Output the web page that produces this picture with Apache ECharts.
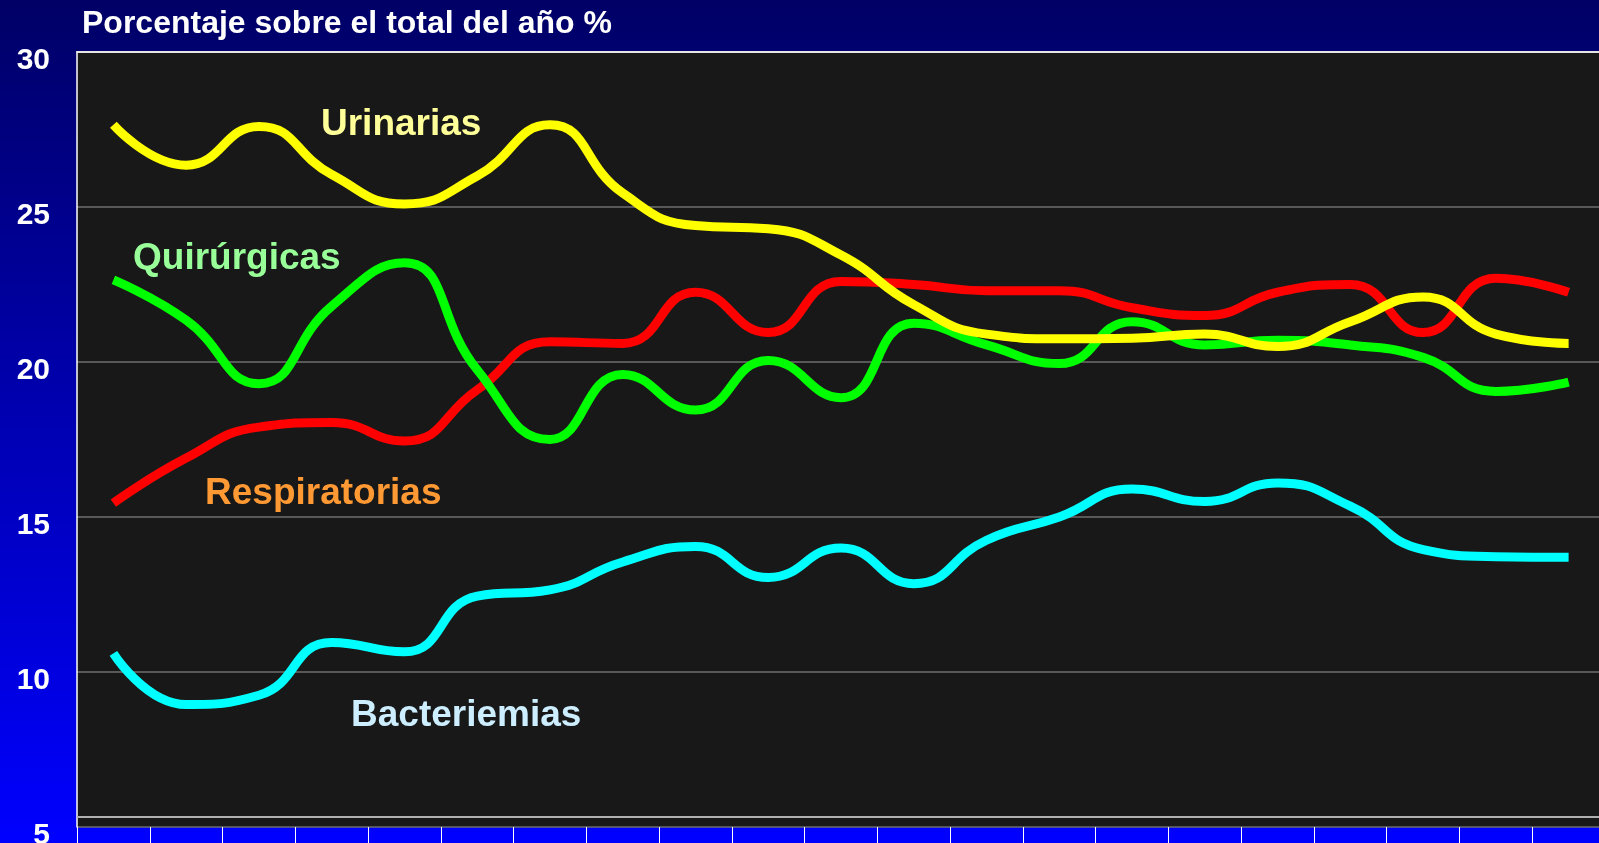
<!DOCTYPE html>
<html>
<head>
<meta charset="utf-8">
<script src="https://cdn.jsdelivr.net/npm/echarts@6/dist/echarts.min.js"></script>
<style>
  html, body { margin: 0; padding: 0; }
  #chart { width: 1599px; height: 843px; }
</style>
</head>
<body>
<div id="chart"></div>
<script>
// years of the survey (x labels fall outside the visible area)
var years = ['1990','1991','1992','1993','1994','1995','1996','1997','1998','1999','2000',
             '2001','2002','2003','2004','2005','2006','2007','2008','2009','2010'];

var urinarias     = [27.65, 26.35, 27.6, 26.05, 25.1, 26.0, 27.65, 25.45, 24.4, 24.3, 23.45,
                     21.85, 20.9, 20.75, 20.77, 20.9, 20.5, 21.3, 22.1, 20.9, 20.6];
var quirurgicas   = [22.65, 21.35, 19.3, 21.8, 23.2, 19.75, 17.5, 19.6, 18.45, 20.05, 18.85,
                     21.25, 20.55, 19.95, 21.3, 20.55, 20.7, 20.55, 20.15, 19.05, 19.35];
var respiratorias = [15.45, 16.9, 17.9, 18.05, 17.45, 19.1, 20.65, 20.6, 22.25, 20.95, 22.6,
                     22.5, 22.3, 22.3, 21.75, 21.5, 22.25, 22.5, 20.95, 22.7, 22.25];
var bacteriemias  = [10.6, 8.95, 9.25, 10.95, 10.65, 12.45, 12.65, 13.55, 14.05, 13.05, 14.0,
                     12.85, 14.25, 15.0, 15.9, 15.5, 16.1, 15.35, 13.95, 13.72, 13.7];

var yTicks = [5, 10, 15, 20, 25, 30];

var font = '"Liberation Sans", Arial, Helvetica, sans-serif';

function lineSeries(name, data, color) {
    return {
        name: name,
        type: 'line',
        data: data,
        smooth: 0.5,
        symbol: 'none',
        silent: true,
        lineStyle: { color: color, width: 9 }
    };
}

function seriesLabel(text, x, y, color) {
    return {
        type: 'text',
        x: x,
        y: y,
        silent: true,
        style: {
            text: text,
            fill: color,
            font: 'bold 37px ' + font,
            align: 'left',
            verticalAlign: 'middle'
        }
    };
}

var chart = echarts.init(document.getElementById('chart'));

var series = [
    lineSeries('Respiratorias', respiratorias, '#ff0000'),
    lineSeries('Bacteriemias', bacteriemias, '#00ffff'),
    lineSeries('Quirúrgicas', quirurgicas, '#00ff00'),
    lineSeries('Urinarias', urinarias, '#ffff00')
];
// light base line just above the bottom of the plot
series[0].markLine = {
    silent: true,
    symbol: 'none',
    label: { show: false },
    lineStyle: { color: '#b0b0b0', width: 2, type: 'solid' },
    data: [{ yAxis: 5.32 }]
};

chart.setOption({
    animation: false,
    backgroundColor: {
        type: 'linear', x: 0, y: 0, x2: 0, y2: 1,
        colorStops: [
            { offset: 0, color: '#000066' },
            { offset: 1, color: '#0000ff' }
        ]
    },
    grid: {
        left: 77,
        top: 52,
        width: 1528,
        bottom: 16,
        outerBoundsMode: 'none',
        containLabel: false,
        show: true,
        backgroundColor: '#181818',
        borderWidth: 0
    },
    xAxis: [{
        type: 'category',
        data: years,
        boundaryGap: true,
        axisLine: { show: false },
        axisTick: { show: true, inside: false, length: 22, lineStyle: { color: '#ffffff', width: 1 } },
        axisLabel: { show: false },
        splitLine: { show: false }
    }, {
        type: 'category',
        data: years,
        position: 'top',
        axisLine: { show: true, lineStyle: { color: '#e6e6e6', width: 2 } },
        axisTick: { show: false },
        axisLabel: { show: false }
    }],
    yAxis: {
        type: 'value',
        min: yTicks[0],
        max: yTicks[yTicks.length - 1],
        interval: 5,
        axisLine: { show: true, lineStyle: { color: '#ffffff', width: 1.5 } },
        axisTick: { show: false },
        axisLabel: {
            color: '#ffffff',
            fontSize: 30,
            fontWeight: 'bold',
            fontFamily: font,
            margin: 27,
            verticalAlign: 'top',
            lineHeight: 18,
            textShadowColor: '#000000',
            textShadowOffsetX: 2,
            textShadowOffsetY: 2
        },
        splitLine: { show: true, lineStyle: { color: '#6e6e6e', width: 1.5 } }
    },
    series: series,
    graphic: [
        {
            type: 'text',
            x: 82,
            y: 24,
            silent: true,
            style: {
                text: 'Porcentaje sobre el total del año %',
                fill: '#ffffff',
                font: 'bold 32px ' + font,
                align: 'left',
                verticalAlign: 'middle',
                textShadowColor: '#000000',
                textShadowOffsetX: 2,
                textShadowOffsetY: 2
            }
        },
        seriesLabel('Urinarias', 321, 125, '#ffff99'),
        seriesLabel('Quirúrgicas', 133, 259, '#99ff99'),
        seriesLabel('Respiratorias', 205, 494, '#ff9933'),
        seriesLabel('Bacteriemias', 351, 716, '#cceeff')
    ]
});
</script>
</body>
</html>
